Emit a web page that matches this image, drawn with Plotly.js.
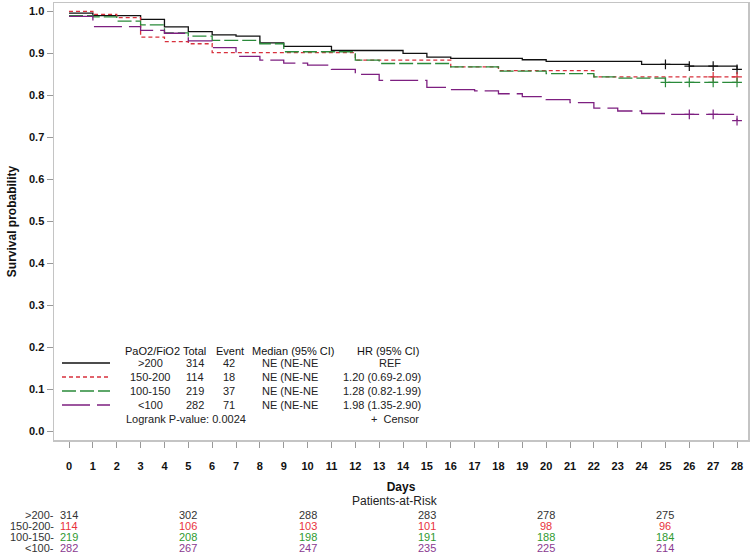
<!DOCTYPE html>
<html>
<head>
<meta charset="utf-8">
<script src="https://cdn.plot.ly/plotly-3.0.1.min.js"></script>
<style>html,body{margin:0;padding:0;background:#fff;}#chart{width:752px;height:553px;}</style>
</head>
<body>
<div id="chart"></div>
<script>
// ---- data ----
const groups = [">200", "150-200", "100-150", "<100"];
const totals = [314, 114, 219, 282];
const events = [42, 18, 37, 71];
const medians = ["NE (NE-NE", "NE (NE-NE", "NE (NE-NE", "NE (NE-NE"];
const hrs = ["REF", "1.20 (0.69-2.09)", "1.28 (0.82-1.99)", "1.98 (1.35-2.90)"];

const t200 = [0,1,3,4,5,6,7,8,9,11,14,15,16,19,20,24,26,28];
const s200 = [0.996,0.990,0.981,0.963,0.952,0.944,0.941,0.925,0.917,0.907,0.900,0.891,0.888,0.885,0.881,0.874,0.870,0.862];
const c200_t = [25,26,27,28];
const c200_s = [0.874,0.870,0.870,0.862];

const t150 = [0,1,2,3,4,5,6,12,16,18,22,28];
const s150 = [1.000,0.993,0.985,0.939,0.928,0.923,0.902,0.884,0.868,0.859,0.844,0.844];
const c150_t = [27,28];
const c150_s = [0.844,0.844];

const t100 = [0,1,2,3,4,5,6,8,9,12,13,16,18,20,22,23,25,28];
const s100 = [0.990,0.987,0.977,0.968,0.949,0.941,0.931,0.923,0.904,0.884,0.876,0.868,0.858,0.852,0.844,0.841,0.831,0.831];
const c100_t = [25,26,27,28];
const c100_s = [0.831,0.831,0.831,0.831];

const t0 = [0,1,3,4,5,6,7,8,9,10,11,12,13,15,16,17,18,19,20,21,22,23,24,25,28];
const s0 = [0.988,0.964,0.955,0.948,0.930,0.914,0.893,0.884,0.877,0.872,0.862,0.850,0.836,0.819,0.814,0.811,0.804,0.797,0.790,0.783,0.770,0.763,0.757,0.755,0.740];
const c0_t = [26,27,28];
const c0_s = [0.755,0.755,0.740];

const riskDays = [0,5,10,15,20,25];
const risk200 = [314,302,288,283,278,275];
const risk150 = [114,106,103,101,98,96];
const risk100 = [219,208,198,191,188,184];
const risk0 = [282,267,247,235,225,214];

const xTicks = Array.from({length:29}, (_, i) => i);
const yTicks = [0,0.1,0.2,0.3,0.4,0.5,0.6,0.7,0.8,0.9,1.0];

// ---- styles ----
const lineColors = ["#111111", "#d8303c", "#2a8a3a", "#7d1f80"];
const riskColors = ["#333333", "#e8323c", "#2f9a2f", "#8a3a90"];
const dashes = ["solid", "4px,3px", "14px,4px", "28px,7px"];
const curves = [[t200,s200],[t150,s150],[t100,s100],[t0,s0]];
const censors = [[c200_t,c200_s],[c150_t,c150_s],[c100_t,c100_s],[c0_t,c0_s]];
const risks = [risk200, risk150, risk100, risk0];

const W = 752, H = 553;
const L = 54, R = 4, T = 3, B = 113;
const PW = W - L - R, PH = H - T - B;
const px = x => (x - L) / PW;
const py = y => (H - B - y) / PH;

const traces = [];
curves.forEach((c, i) => {
  traces.push({
    x: c[0], y: c[1], type: 'scatter', mode: 'lines',
    line: {shape: 'hv', color: lineColors[i], width: 1.3, dash: dashes[i]},
    hoverinfo: 'skip', showlegend: false
  });
});
censors.forEach((c, i) => {
  traces.push({
    x: c[0], y: c[1], type: 'scatter', mode: 'markers',
    marker: {symbol: 'cross-thin-open', size: 7, line: {color: lineColors[i], width: 1.2}, color: lineColors[i]},
    hoverinfo: 'skip', showlegend: false
  });
});

const font = "Arial, 'Liberation Sans', sans-serif";
const narrow = "'Liberation Sans Narrow', 'Arial Narrow', Arial, 'Liberation Sans', sans-serif";
const annotations = [];
const shapes = [];

// legend table
const headY = 351;
const rowY = [363, 377, 391, 405];
const cols = [
  {x: 152, text: "PaO2/FiO2"},
  {x: 194, text: "Total"},
  {x: 230, text: "Event"},
  {x: 293, text: "Median (95% CI)"},
  {x: 388, text: "HR (95% CI)"}
];
cols.forEach(c => annotations.push({
  xref: 'paper', yref: 'paper', x: px(c.x), y: py(headY), text: c.text,
  showarrow: false, xanchor: 'center', yanchor: 'middle', font: {family: font, size: 11, color: '#111'}
}));
groups.forEach((g, i) => {
  const vals = [[150, g], [195, String(totals[i])], [229, String(events[i])], [290, medians[i]], [i === 0 ? 390 : 382, hrs[i]]];
  vals.forEach(v => annotations.push({
    xref: 'paper', yref: 'paper', x: px(v[0]), y: py(rowY[i]), text: v[1],
    showarrow: false, xanchor: 'center', yanchor: 'middle', font: {family: font, size: 11, color: '#222'}
  }));
  shapes.push({
    type: 'line', xref: 'paper', yref: 'paper', x0: px(62), x1: px(110), y0: py(rowY[i]), y1: py(rowY[i]),
    line: {color: lineColors[i], width: 1.3, dash: dashes[i]}
  });
});
annotations.push({
  xref: 'paper', yref: 'paper', x: px(124), y: py(419), text: "Logrank P-value: 0.0024",
  showarrow: false, xanchor: 'left', yanchor: 'middle', font: {family: font, size: 11, color: '#222'}
});
annotations.push({
  xref: 'paper', yref: 'paper', x: px(421), y: py(419), text: "+  Censor",
  showarrow: false, xanchor: 'right', yanchor: 'middle', font: {family: font, size: 11, color: '#222'}
});

// risk table
annotations.push({
  xref: 'paper', yref: 'paper', x: px(395), y: py(501), text: "Patients-at-Risk",
  showarrow: false, xanchor: 'center', yanchor: 'middle', font: {family: narrow, size: 12, color: '#222'}
});
const riskRowY = [515, 526, 537, 548];
groups.forEach((g, i) => {
  annotations.push({
    xref: 'paper', yref: 'paper', x: px(56), y: py(riskRowY[i]), text: g + "-",
    showarrow: false, xanchor: 'right', yanchor: 'middle', font: {family: narrow, size: 11, color: '#333'}
  });
  riskDays.forEach((d, j) => annotations.push({
    xref: 'x', yref: 'paper', x: d, y: py(riskRowY[i]), text: String(risks[i][j]),
    showarrow: false, xanchor: 'center', yanchor: 'middle', font: {family: narrow, size: 11, color: riskColors[i]}
  }));
});

const layout = {
  width: W, height: H,
  margin: {l: L, r: R, t: T, b: B, pad: 0},
  paper_bgcolor: '#fff', plot_bgcolor: '#fff',
  xaxis: {
    range: [-0.63, 28.46], tickvals: xTicks, ticktext: xTicks.map(String),
    showgrid: false, zeroline: false, showline: true, mirror: true, linecolor: '#c4c4c4', linewidth: 1.5,
    ticks: 'outside', ticklen: 6, tickcolor: '#999', tickwidth: 1, ticklabelstandoff: 9,
    tickfont: {family: font, size: 11, color: '#111', weight: 'bold'},
    title: {text: '<b>Days</b>', font: {family: narrow, size: 12, color: '#111'}, standoff: 12}
  },
  yaxis: {
    range: [-0.02, 1.02], tickvals: yTicks, tickformat: '.1f',
    showgrid: false, zeroline: false, showline: true, mirror: true, linecolor: '#c4c4c4', linewidth: 1.5,
    ticks: 'outside', ticklen: 6, tickcolor: '#999', tickwidth: 1,
    tickfont: {family: font, size: 11, color: '#111', weight: 'bold'},
    title: {text: '<b>Survival probability</b>', font: {family: narrow, size: 12, color: '#111'}, standoff: 10}
  },
  annotations: annotations,
  shapes: shapes,
  showlegend: false
};

Plotly.newPlot('chart', traces, layout, {displayModeBar: false, staticPlot: true});
</script>
</body>
</html>
